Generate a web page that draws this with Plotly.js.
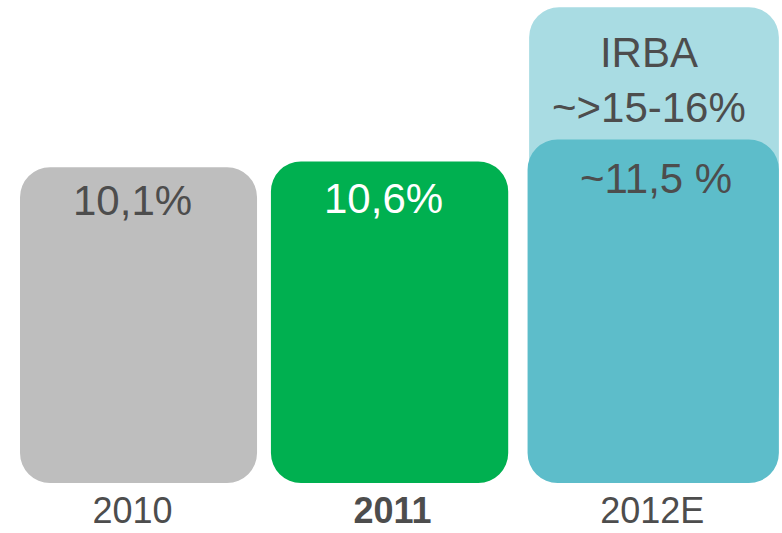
<!DOCTYPE html>
<html>
<head>
<meta charset="utf-8">
<script src="https://cdn.plot.ly/plotly-3.0.1.min.js"></script>
<style>html,body{margin:0;padding:0;background:#fff;}#chart{width:782px;height:533px;}</style>
</head>
<body>
<div id="chart"></div>
<script>
// ---- data ----
const categories = ["2010", "2011", "2012E"];
const tickLabels = ["2010", "<b>2011</b>", "2012E"];
const barHeights = [10.36, 10.55, 11.27];          // visual bar heights
const barLabels = ["10,1%", "10,6%", "~11,5 %"];
const irbaCategory = ["2012E"];
const irbaHeight = [15.61];
const irbaLabel = ["IRBA<br>~>15-16%"];

// ---- styling ----
const barColors = ["#bebebe", "#00b050", "#5dbdca"];
const irbaColor = "#a9dce3";
const labelColors = ["#4d4d4d", "#ffffff", "#4d4d4d"];
const offsets = [-0.433, -0.4675, -0.48];
const widths = [0.912, 0.913, 0.967];
const R = 30;          // corner radius px
const EPS = 0.001;     // tiny explicit base -> both ends rounded
const FONT = "Liberation Sans, Arial, sans-serif";

const traces = [];
// light IRBA bar behind
traces.push({
  type: "bar", x: irbaCategory, y: irbaHeight.map(v => v - 2), base: irbaHeight.map(() => 2),
  offset: [-0.474], width: [0.961],
  marker: {color: irbaColor, cornerradius: R, line: {width: 0}},
  hoverinfo: "skip", showlegend: false
});
// main bars
traces.push({
  type: "bar", x: categories, y: barHeights.map(v => v - EPS), base: barHeights.map(() => EPS),
  offset: offsets, width: widths,
  marker: {color: barColors, cornerradius: R, line: {width: 0}},
  hoverinfo: "skip", showlegend: false
});

const catIndex = c => categories.indexOf(c);
const xShifts = [0, -9, 4];
const yShifts = [-8, -11, -13];
const annotations = barLabels.map((t, i) => ({
  x: i, y: barHeights[i], xref: "x", yref: "y",
  text: t, showarrow: false, xanchor: "center", yanchor: "top",
  xshift: xShifts[i], yshift: yShifts[i],
  font: {family: FONT, size: 42, color: labelColors[i]}
}));
irbaLabel.forEach((t, i) => annotations.push({
  x: catIndex(irbaCategory[i]), y: irbaHeight[i], xref: "x", yref: "y",
  text: t, showarrow: false, xanchor: "center", yanchor: "top",
  xshift: -3, yshift: -20,
  font: {family: FONT, size: 42, color: "#4d4d4d"}
}));

const layout = {
  width: 782, height: 533,
  margin: {l: 0, r: 0, t: 0, b: 50, pad: 0},
  paper_bgcolor: "#ffffff", plot_bgcolor: "#ffffff",
  barmode: "overlay",
  showlegend: false,
  xaxis: {
    type: "category", range: [-0.510, 2.499],
    categoryorder: "array", categoryarray: categories,
    tickvals: categories, ticktext: tickLabels,
    ticklabelstandoff: 3,
    showgrid: false, zeroline: false, showline: false, ticks: "",
    tickfont: {family: FONT, size: 36, color: "#4d4d4d"}
  },
  yaxis: {
    range: [0, 15.85], visible: false, showgrid: false, zeroline: false
  },
  annotations: annotations
};

Plotly.newPlot("chart", traces, layout, {displayModeBar: false, staticPlot: true});
</script>
</body>
</html>
